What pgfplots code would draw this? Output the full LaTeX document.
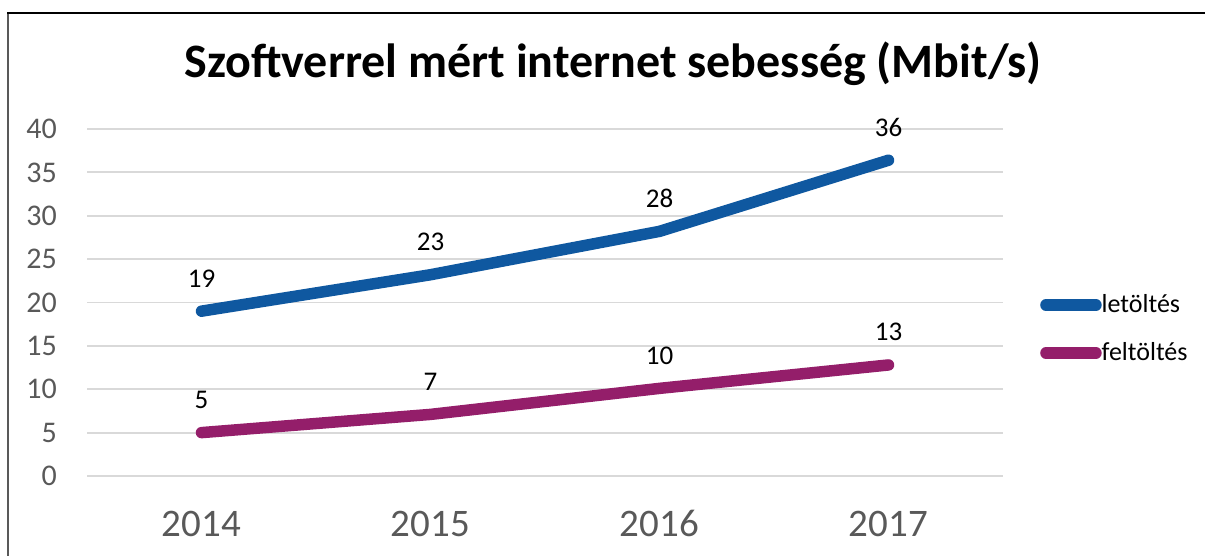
\documentclass[border=0pt]{standalone}
\usepackage{fontspec}
\setmainfont{Carlito}
\usepackage{pgfplots}
\pgfplotsset{compat=1.18}
\definecolor{dl}{RGB}{15,88,160}
\definecolor{ul}{RGB}{148,30,106}
\definecolor{tk}{RGB}{89,89,89}
\definecolor{gr}{RGB}{217,217,217}
\begin{document}
\begin{tikzpicture}[x=1pt,y=1pt]
\useasboundingbox (0,0) rectangle (1205,556);
\draw[tk, line width=2.5pt] (8,0) -- (8,543.5);
\draw[black, line width=1.5pt] (7,543) -- (1205,543);
\node[anchor=base, inner sep=0pt, font=\fontsize{48}{54}\selectfont\bfseries] at (613,478) {Szoftverrel mért internet sebesség (Mbit/s)};
\begin{axis}[
 at={(87pt,80pt)}, anchor=south west, width=916pt, height=347pt, scale only axis,
 /pgf/number format/assume math mode=true,
 xmin=-0.5, xmax=3.5, ymin=0, ymax=40,
 xtick={0,1,2,3}, xticklabels={2014,2015,2016,2017},
 ytick={0,5,...,40},
 axis line style={draw=none}, major tick length=0pt,
 ymajorgrids, grid style={gr, line width=1.8pt},
 clip=false,
 yticklabel style={font=\fontsize{30}{36}\selectfont, text=tk, anchor=east, inner sep=0pt, xshift=-30pt},
 xticklabel style={font=\fontsize{39}{46}\selectfont, text=tk, anchor=base, inner sep=0pt, yshift=-61pt},
 nodes near coords,
 every node near coord/.append style={font=\fontsize{27}{32}\selectfont, text=black, anchor=base, inner sep=0pt, yshift=24pt, /pgf/number format/fixed, /pgf/number format/precision=0, /pgf/number format/assume math mode=true},
 legend style={at={(1.0404,0.4236)}, anchor=west, draw=none, fill=none, inner sep=0pt, font=\fontsize{26}{31}\selectfont, row sep=24pt, column sep=0pt, nodes={inner sep=0pt, text height=19pt, text depth=5pt}},
 legend cell align=left,
 legend image code/.code={\draw[#1, line cap=round] (0pt,0pt) -- (50pt,0pt);},
]
\addplot[dl, line width=11.5pt, line cap=round, line join=round] coordinates {(0,19.0) (1,23.2) (2,28.2) (3,36.4)};
\addlegendentry{letöltés}
\addplot[ul, line width=11.5pt, line cap=round, line join=round] coordinates {(0,5.0) (1,7.1) (2,10.1) (3,12.8)};
\addlegendentry{feltöltés}
\end{axis}
\end{tikzpicture}
\end{document}
